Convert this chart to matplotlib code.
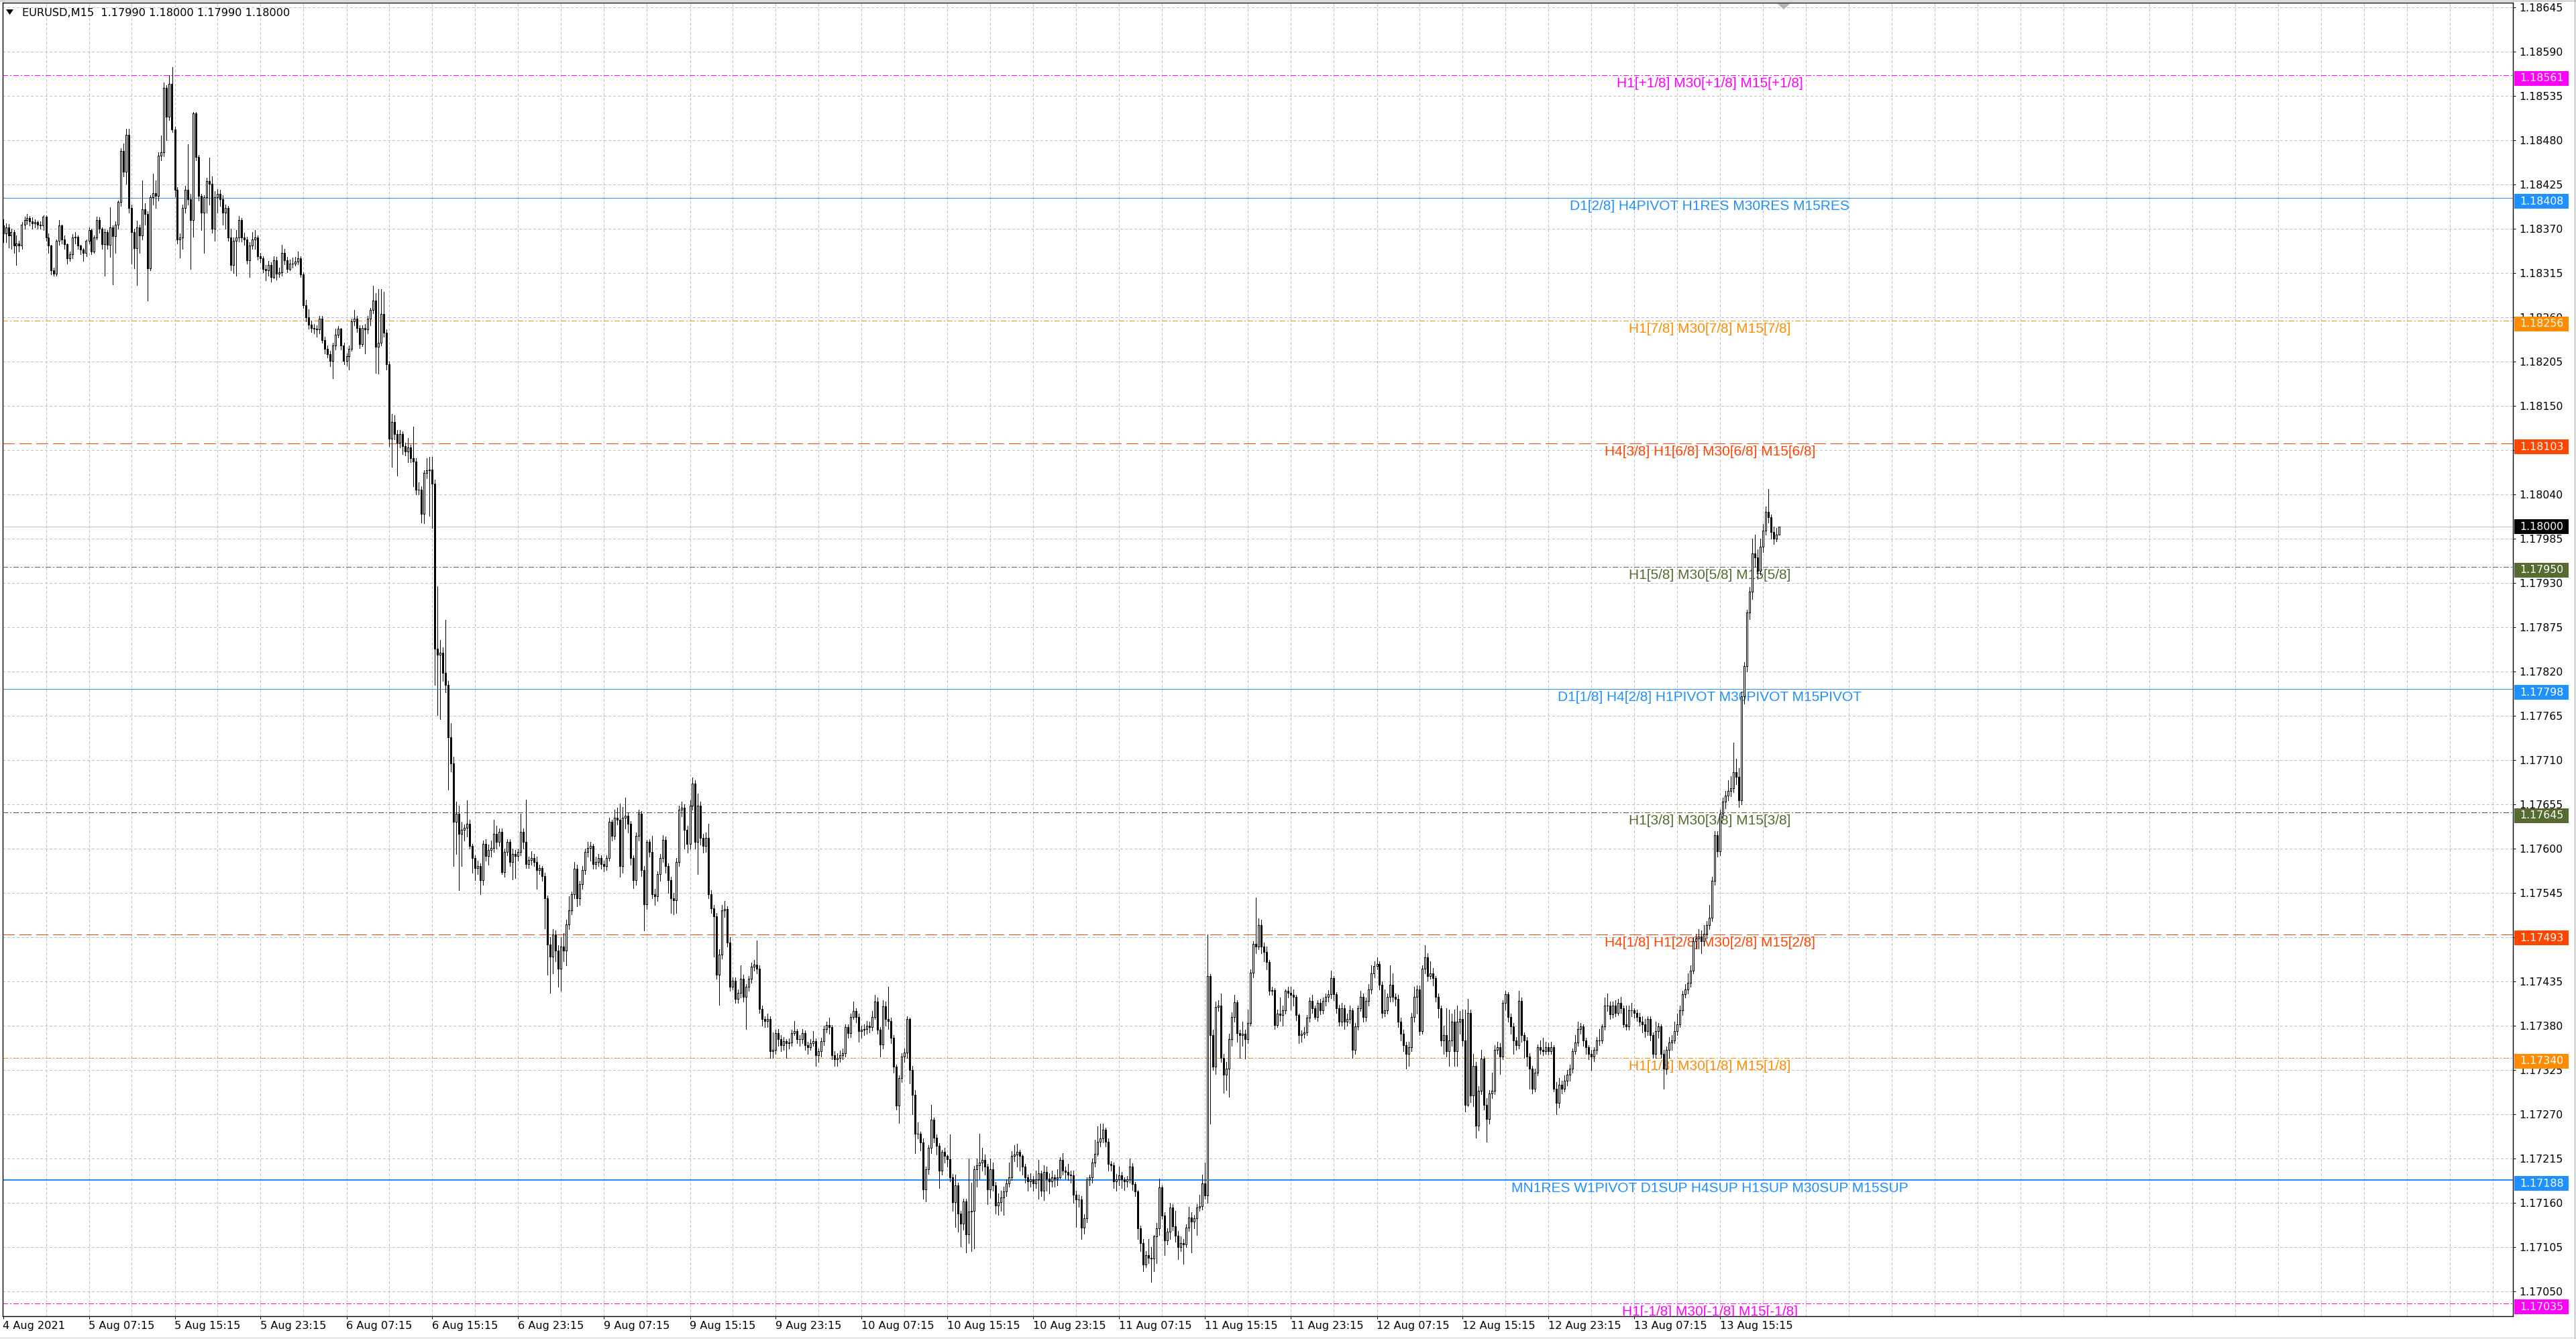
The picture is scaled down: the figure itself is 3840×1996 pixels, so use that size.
import matplotlib
matplotlib.use("Agg")
import matplotlib.pyplot as plt
import matplotlib.transforms as mtransforms
from matplotlib.collections import LineCollection
from matplotlib.patches import Rectangle, Polygon
from matplotlib.lines import Line2D
import numpy as np

plt.rcParams['font.family'] = ['DejaVu Sans']

# ---------------- data (EURUSD M15, prices as points above 1.17000) ----------------
BASE = 1.17000
POINT = 0.00001

opens = [
1374,1364,1372,1362,1366,1349,1352,1349,1375,1381,
1383,1379,1377,1378,1375,1374,1385,1359,1349,1318,
1314,1355,1374,1357,1351,1333,1338,1359,1360,1349,
1344,1340,1355,1368,1342,1359,1381,1370,1351,1366,
1350,1372,1361,1375,1403,1467,1441,1487,1396,1366,
1346,1372,1362,1394,1388,1321,1409,1414,1411,1461,
1465,1545,1509,1550,1493,1418,1357,1359,1396,1418,
1407,1381,1513,1459,1411,1390,1409,1429,1426,1370,
1409,1413,1407,1390,1396,1359,1325,1355,1359,1381,
1359,1357,1331,1349,1357,1359,1336,1333,1320,1318,
1325,1310,1331,1314,1316,1340,1331,1320,1327,1327,
1329,1333,1313,1275,1260,1251,1247,1246,1245,1258,
1232,1221,1214,1206,1225,1238,1246,1225,1206,1212,
1221,1255,1258,1247,1227,1247,1245,1258,1269,1281,
1223,1228,1264,1241,1202,1109,1130,1115,1104,1115,
1100,1093,1098,1085,1081,1046,1046,1016,1067,1070,
1071,1053,848,841,843,818,803,738,706,633,
643,618,623,626,631,603,588,576,578,561,
606,591,598,601,618,608,621,571,596,608,
583,593,591,596,621,608,581,586,588,583,
573,576,566,538,481,466,493,473,451,478,
473,506,523,543,575,538,556,573,596,601,
603,581,583,588,581,578,588,633,616,638,
636,578,638,641,631,588,561,616,643,573,
531,608,596,543,541,568,588,611,578,561,
538,536,583,648,651,623,606,653,681,608,
653,613,603,613,543,526,516,443,468,523,
525,483,428,436,413,421,438,416,428,438,
453,456,451,401,388,386,388,348,350,371,
363,356,361,358,359,371,373,363,363,371,
356,353,358,361,343,348,361,376,381,378,
343,338,340,343,346,378,371,391,398,391,
373,375,376,380,378,391,410,375,357,404,
388,386,365,329,281,315,342,347,388,325,
294,246,246,235,177,202,228,263,241,231,
200,223,218,214,192,161,182,147,134,162,
121,149,150,202,207,210,213,205,177,202,
182,157,161,167,174,184,192,218,220,223,
218,205,192,187,189,184,189,197,175,198,
190,187,192,190,192,213,200,198,195,194,
170,164,164,129,141,189,192,210,221,236,
240,251,236,208,207,187,189,194,189,187,
189,205,183,174,128,110,83,95,92,91,
118,128,179,144,113,124,154,131,119,105,
110,108,129,142,137,141,154,156,184,169,
442,368,329,403,405,340,319,327,363,391,
409,371,368,370,363,383,446,482,478,505,
478,472,459,423,424,381,395,393,399,423,
421,418,416,393,368,370,372,390,411,402,
391,408,399,411,416,419,439,419,402,385,
402,385,388,399,350,379,402,416,391,411,
425,445,454,457,431,396,399,416,431,416,
413,385,370,356,345,353,391,416,425,373,
451,465,442,445,439,416,402,362,368,348,
362,385,348,385,388,362,282,396,293,330,
256,299,339,282,264,296,299,350,353,342,
408,419,391,379,362,356,411,368,362,342,
327,302,322,353,350,348,353,348,353,302,
284,307,302,312,319,327,348,359,376,379,
362,353,345,342,350,362,362,379,405,405,
394,405,396,408,402,382,379,399,399,396,
391,385,382,373,388,368,345,373,379,345,
327,350,359,362,373,382,399,419,425,433,
448,485,488,491,485,494,505,514,560,617,
597,643,658,666,672,675,695,689,660,789,
827,893,919,967,962,945,975,995,1018,1012,
993,985,990,
]

highs = [
1382,1377,1376,1370,1368,1362,1355,1378,1385,1388,
1386,1384,1382,1380,1379,1387,1387,1364,1350,1322,
1357,1381,1375,1362,1352,1342,1363,1366,1362,1350,
1346,1357,1372,1370,1362,1385,1384,1372,1370,1368,
1397,1374,1379,1405,1470,1476,1494,1494,1400,1370,
1380,1375,1430,1402,1392,1412,1438,1430,1465,1486,
1552,1548,1561,1571,1497,1422,1364,1400,1423,1475,
1413,1515,1515,1462,1413,1412,1433,1458,1435,1417,
1419,1418,1412,1400,1398,1370,1359,1368,1386,1383,
1365,1360,1353,1366,1368,1362,1340,1336,1325,1330,
1328,1336,1335,1322,1350,1345,1335,1332,1334,1335,
1342,1336,1316,1282,1270,1256,1252,1250,1262,1262,
1236,1225,1218,1228,1246,1249,1247,1228,1215,1225,
1258,1269,1262,1250,1250,1252,1262,1272,1299,1290,
1295,1295,1292,1245,1205,1140,1138,1120,1120,1118,
1104,1110,1102,1124,1085,1055,1050,1070,1085,1087,
1087,1058,926,859,850,884,808,756,714,658,
653,633,630,660,636,606,592,585,582,610,
612,605,610,636,628,625,625,600,612,612,
600,598,600,643,625,661,590,597,593,590,
580,578,570,542,490,500,498,480,490,495,
512,541,547,583,580,560,578,600,608,608,
606,590,593,592,585,592,638,636,648,651,
656,652,663,645,634,592,620,648,647,578,
611,612,616,550,572,593,617,615,582,565,
545,588,653,658,655,628,660,688,685,668,
658,618,620,631,548,530,520,475,530,535,
528,490,440,440,425,455,443,432,442,458,
462,486,455,405,392,395,392,372,375,376,
368,366,363,364,375,386,376,368,376,374,
360,363,373,364,352,365,380,385,390,381,
348,346,349,352,382,382,395,410,402,395,
380,382,386,385,398,418,415,378,412,410,
428,390,368,332,318,346,352,392,390,330,
300,260,248,240,205,232,282,266,245,234,
226,228,220,245,196,195,185,150,165,165,
215,185,206,215,246,228,220,208,215,210,
186,172,175,180,189,210,224,232,233,226,
220,208,195,197,193,200,213,200,207,205,
197,200,195,202,217,222,205,208,200,200,
175,170,168,146,192,195,215,238,255,258,
258,253,240,212,210,196,205,198,192,193,
215,209,186,176,132,115,100,115,105,120,
135,190,182,148,128,160,158,150,125,118,
115,133,155,148,145,158,170,195,210,493,
444,375,410,412,420,345,335,370,397,418,
412,375,385,375,400,450,485,539,513,512,
483,478,462,428,427,400,415,405,425,428,
428,425,418,395,374,378,393,415,418,405,
412,413,415,420,424,448,442,422,406,408,
406,395,405,402,383,405,423,420,415,432,
455,460,465,460,435,425,420,455,445,420,
418,390,375,360,360,396,428,430,430,455,
480,470,460,452,442,420,405,380,402,400,
395,400,405,398,400,400,413,400,345,335,
305,350,342,290,300,322,356,360,358,412,
423,422,395,383,366,423,415,372,366,346,
330,327,357,362,365,360,358,360,356,310,
315,312,318,325,332,352,368,385,383,382,
365,356,350,353,366,376,382,415,420,410,
410,412,413,416,405,405,405,408,402,400,
396,392,388,392,392,372,385,383,382,350,
354,366,368,385,395,405,423,432,445,455,
490,494,500,498,505,510,530,565,622,622,
648,663,672,685,690,732,712,700,795,832,
897,925,985,990,972,985,1003,1025,1047,1015,
1000,998,1000,
]

lows = [
1353,1353,1347,1345,1340,1325,1342,1345,1370,1376,
1374,1370,1372,1370,1370,1368,1355,1340,1313,1312,
1312,1350,1352,1345,1327,1330,1333,1352,1345,1338,
1330,1336,1352,1338,1340,1357,1365,1345,1312,1345,
1335,1301,1340,1370,1398,1435,1426,1390,1327,1321,
1300,1340,1357,1375,1281,1318,1400,1396,1405,1455,
1460,1480,1505,1490,1410,1352,1334,1345,1390,1400,
1320,1360,1455,1405,1368,1340,1390,1400,1365,1355,
1390,1398,1375,1370,1355,1318,1315,1312,1354,1354,
1350,1327,1310,1345,1345,1332,1328,1316,1306,1312,
1304,1308,1307,1310,1312,1326,1316,1318,1322,1324,
1326,1310,1272,1255,1246,1242,1240,1236,1240,1228,
1215,1210,1199,1184,1220,1235,1220,1202,1200,1195,
1218,1250,1242,1222,1224,1215,1240,1250,1265,1191,
1190,1225,1236,1195,1100,1074,1108,1063,1098,1090,
1088,1080,1080,1050,1040,1040,1005,1004,1060,1013,
998,803,766,761,808,794,673,696,578,593,
548,578,610,615,600,570,561,568,543,555,
585,580,590,596,600,603,568,565,592,578,
562,563,585,592,600,576,576,580,578,550,
568,560,501,443,421,445,460,428,423,460,
455,500,518,538,528,530,550,568,590,585,
575,575,578,575,572,573,585,610,612,630,
565,570,625,620,580,551,555,610,566,498,
525,590,538,530,535,560,583,570,545,520,
518,520,578,640,600,595,600,648,600,568,
605,595,596,538,520,466,438,406,463,515,
478,423,425,408,408,415,410,376,423,433,
448,445,396,380,378,378,340,340,345,355,
348,350,340,352,355,368,358,355,358,350,
345,350,355,330,335,342,356,372,370,338,
330,330,335,338,342,365,366,388,384,360,
365,368,370,372,374,388,370,342,352,380,
376,358,322,276,259,310,335,340,308,270,
222,240,225,165,162,196,222,235,220,178,
195,210,205,187,150,130,124,106,127,98,
110,100,103,180,190,200,195,158,167,175,
147,145,150,145,168,180,188,212,205,200,
195,185,175,180,175,178,165,168,163,175,
172,180,180,182,190,195,190,188,185,160,
130,155,115,122,136,182,185,205,218,230,
235,230,200,200,178,175,182,178,176,180,
185,176,168,115,100,75,80,85,62,75,
85,120,140,95,108,115,126,112,90,100,
84,105,125,98,128,120,150,152,165,160,
258,325,320,398,335,297,300,292,355,385,
360,340,355,339,358,380,440,470,475,470,
460,450,418,418,376,378,386,380,395,415,
400,405,387,358,360,365,368,385,396,388,
386,394,395,405,410,414,412,396,380,380,
376,380,383,340,345,375,398,385,386,405,
420,440,450,425,390,392,395,410,410,405,
378,362,348,327,330,348,385,395,368,370,
445,436,438,430,410,390,355,345,342,330,
355,330,330,370,355,273,280,285,280,241,
250,295,276,236,258,290,295,345,320,338,
400,385,370,345,350,352,360,340,330,302,
296,298,318,345,343,345,344,345,298,270,
278,296,298,306,312,322,345,355,370,355,
345,338,325,336,345,356,358,375,398,388,
390,392,393,396,378,375,375,392,390,386,
380,372,366,368,362,340,340,365,340,302,
320,340,350,358,368,378,393,415,420,428,
445,476,476,470,480,488,500,510,555,590,
592,638,650,660,665,670,680,652,655,780,
820,885,910,950,935,940,968,990,1005,985,
978,982,990,
]

closes = [
1364,1372,1362,1366,1349,1352,1349,1375,1381,1383,
1379,1377,1378,1375,1374,1385,1359,1349,1318,1314,
1355,1374,1357,1351,1333,1338,1359,1360,1349,1344,
1340,1355,1368,1342,1359,1381,1370,1351,1366,1350,
1372,1361,1375,1403,1467,1441,1487,1396,1366,1346,
1372,1362,1394,1388,1321,1409,1414,1411,1461,1465,
1545,1509,1550,1493,1418,1357,1359,1396,1418,1407,
1381,1513,1459,1411,1390,1409,1429,1426,1370,1409,
1413,1407,1390,1396,1359,1325,1355,1359,1381,1359,
1357,1331,1349,1357,1359,1336,1333,1320,1318,1325,
1310,1331,1314,1316,1340,1331,1320,1327,1327,1329,
1333,1313,1275,1260,1251,1247,1246,1245,1258,1232,
1221,1214,1206,1225,1238,1246,1225,1206,1212,1221,
1255,1258,1247,1227,1247,1245,1258,1269,1281,1223,
1228,1264,1241,1202,1109,1130,1115,1104,1115,1100,
1093,1098,1085,1081,1046,1046,1016,1067,1070,1071,
1053,848,841,843,818,803,738,706,633,643,
618,623,626,631,603,588,576,578,561,606,
591,598,601,618,608,621,571,596,608,583,
593,591,596,621,608,581,586,588,583,573,
576,566,538,481,466,493,473,451,478,473,
506,523,543,575,538,556,573,596,601,603,
581,583,588,581,578,588,633,616,638,636,
578,638,641,631,588,561,616,643,573,531,
608,596,543,541,568,588,611,578,561,538,
536,583,648,651,623,606,653,681,608,653,
613,603,613,543,526,516,443,468,523,525,
483,428,436,413,421,438,416,428,438,453,
456,451,401,388,386,388,348,350,371,363,
356,361,358,359,371,373,363,363,371,356,
353,358,361,343,348,361,376,381,378,343,
338,340,343,346,378,371,391,398,391,373,
375,376,380,378,391,410,375,357,404,388,
386,365,329,281,315,342,347,388,325,294,
246,246,235,177,202,228,263,241,231,200,
223,218,214,192,161,182,147,134,162,121,
149,150,202,207,210,213,205,177,202,182,
157,161,167,174,184,192,218,220,223,218,
205,192,187,189,184,189,197,175,198,190,
187,192,190,192,213,200,198,195,194,170,
164,164,129,141,189,192,210,221,236,240,
251,236,208,207,187,189,194,189,187,189,
205,183,174,128,110,83,95,92,91,118,
128,179,144,113,124,154,131,119,105,110,
108,129,142,137,141,154,156,184,169,442,
368,329,403,405,340,319,327,363,391,409,
371,368,370,363,383,446,482,478,505,478,
472,459,423,424,381,395,393,399,423,421,
418,416,393,368,370,372,390,411,402,391,
408,399,411,416,419,439,419,402,385,402,
385,388,399,350,379,402,416,391,411,425,
445,454,457,431,396,399,416,431,416,413,
385,370,356,345,353,391,416,425,373,451,
465,442,445,439,416,402,362,368,348,362,
385,348,385,388,362,282,396,293,330,256,
299,339,282,264,296,299,350,353,342,408,
419,391,379,362,356,411,368,362,342,327,
302,322,353,350,348,353,348,353,302,284,
307,302,312,319,327,348,359,376,379,362,
353,345,342,350,362,362,379,405,405,394,
405,396,408,402,382,379,399,399,396,391,
385,382,373,388,368,345,373,379,345,327,
350,359,362,373,382,399,419,425,433,448,
485,488,491,485,494,505,514,560,617,597,
643,658,666,672,675,695,689,660,789,827,
893,919,967,962,945,975,995,1018,1012,993,
985,990,1000,
]

# time axis labels (one every 32 bars)
time_labels = ["4 Aug 2021", "5 Aug 07:15", "5 Aug 15:15", "5 Aug 23:15", "6 Aug 07:15",
               "6 Aug 15:15", "6 Aug 23:15", "9 Aug 07:15", "9 Aug 15:15", "9 Aug 23:15",
               "10 Aug 07:15", "10 Aug 15:15", "10 Aug 23:15", "11 Aug 07:15", "11 Aug 15:15",
               "11 Aug 23:15", "12 Aug 07:15", "12 Aug 15:15", "12 Aug 23:15", "13 Aug 07:15",
               "13 Aug 15:15"]
BARS_PER_LABEL = 32
BARS_PER_GRID = 16

# Murrey-math style levels
level_prices = [1.18561, 1.18408, 1.18256, 1.18103, 1.17950, 1.17798,
                1.17645, 1.17493, 1.17340, 1.17188, 1.17035]
level_names = ["H1[+1/8] M30[+1/8] M15[+1/8]",
               "D1[2/8] H4PIVOT H1RES M30RES M15RES",
               "H1[7/8] M30[7/8] M15[7/8]",
               "H4[3/8] H1[6/8] M30[6/8] M15[6/8]",
               "H1[5/8] M30[5/8] M15[5/8]",
               "D1[1/8] H4[2/8] H1PIVOT M30PIVOT M15PIVOT",
               "H1[3/8] M30[3/8] M15[3/8]",
               "H4[1/8] H1[2/8] M30[2/8] M15[2/8]",
               "H1[1/8] M30[1/8] M15[1/8]",
               "MN1RES W1PIVOT D1SUP H4SUP H1SUP M30SUP M15SUP",
               "H1[-1/8] M30[-1/8] M15[-1/8]"]
level_colors = ["#ff00ff", "#1e90ff", "#ff8c00", "#ff4500", "#556b2f", "#1e90ff",
                "#556b2f", "#ff4500", "#ff8c00", "#1e90ff", "#ff00ff"]
level_kinds = ["dashdot", "solid", "dashdot", "dash", "dashdot", "solid",
               "dashdot", "dash", "dashdot", "solid_thick", "dashdot"]

current_price = 1.18000
header = "EURUSD,M15  1.17990 1.18000 1.17990 1.18000"

y_tick_start = 1.17050
y_tick_step = 0.00055
y_tick_count = 30

# ---------------- figure layout ----------------
W, H = 3840, 1996
DPI = 100
PX = 72.0 / DPI  # one pixel in points
fig = plt.figure(figsize=(W / DPI, H / DPI), dpi=DPI)
fig.patch.set_facecolor("white")

ax_l, ax_r, ax_t, ax_b = 4, 3746, 4, 1962
ax = fig.add_axes([ax_l / W, 1 - ax_b / H, (ax_r - ax_l) / W, (ax_b - ax_t) / H])
ax.set_facecolor("white")

px_per_bar = 4.0
x0 = -0.125
x1 = x0 + (ax_r - ax_l) / px_per_bar
px_per_price = 120000.0
y_top = 1.18645 + 7 / px_per_price
y_bot = 1.18645 - 1951 / px_per_price

n = min(len(opens), len(highs), len(lows), len(closes))
o = BASE + np.array(opens[:n]) * POINT
h = BASE + np.array(highs[:n]) * POINT
l = BASE + np.array(lows[:n]) * POINT
c = BASE + np.array(closes[:n]) * POINT
xs = np.arange(n)

# ticks
yt = [y_tick_start + k * y_tick_step for k in range(y_tick_count)]
ax.set_yticks(yt)
ax.set_yticklabels([f"{v:.5f}" for v in yt])
major_x = [k * BARS_PER_LABEL for k in range(len(time_labels))]
ax.set_xticks(major_x)
ax.set_xticklabels(time_labels)

# grid (drawn manually so it spans the whole window)
grid_kw = dict(color="#c0c0c0", linestyle=(0, (3, 3)), linewidth=PX, zorder=1,
               antialiased=False)
for v in yt:
    ax.axhline(v, **grid_kw)
xg = BARS_PER_GRID
while xg < x1:
    ax.axvline(xg, **grid_kw)
    xg += BARS_PER_GRID

ax.yaxis.tick_right()
ax.tick_params(axis="y", which="major", length=4 * PX, width=PX, pad=5 * PX,
               labelsize=11.3, colors="black", direction="out")
ax.tick_params(axis="x", which="major", length=4 * PX, width=PX, pad=3 * PX,
               labelsize=11.6, colors="black", direction="out")
for lab in ax.get_xticklabels():
    lab.set_horizontalalignment("left")
for sp in ax.spines.values():
    sp.set_color("black")
    sp.set_linewidth(1.0)

# ---------------- levels ----------------
blend = mtransforms.blended_transform_factory(ax.transAxes, ax.transData)
label_tr = mtransforms.offset_copy(blend, fig=fig, y=-3, units="dots")
styles = {"dashdot": ((0, (8, 3, 2, 3)), PX),
          "dash": ((0, (17, 7)), PX),
          "solid": ("-", PX),
          "solid_thick": ("-", 2 * PX)}
for p, name, col, kind in zip(level_prices, level_names, level_colors, level_kinds):
    ls, lw = styles[kind]
    ax.axhline(p, color=col, linestyle=ls, linewidth=lw, zorder=2, antialiased=False)
    ax.text(0.6801, p, name, transform=label_tr, ha="center", va="top",
            color=col, fontsize=15, family=["Liberation Sans", "DejaVu Sans"],
            zorder=2.6, clip_on=True)

ax.axhline(current_price, color="#c0c0c0", linewidth=PX, zorder=2, antialiased=False)

# ---------------- candles ----------------
segs = [[(x, lo), (x, hi)] for x, lo, hi in zip(xs, l, h)]
ax.add_collection(LineCollection(segs, colors="black", linewidths=PX,
                                 antialiaseds=False, zorder=3))
bull = c >= o
bw = 0.5
ax.bar(xs[bull], (c - o)[bull], bottom=o[bull], width=bw, color="white",
       edgecolor="black", linewidth=PX, antialiased=False, zorder=4)
ax.bar(xs[~bull], (c - o)[~bull], bottom=o[~bull], width=bw, color="black",
       edgecolor="black", linewidth=PX, antialiased=False, zorder=4)

# limits set last so nothing expands them
ax.set_xlim(x0, x1)
ax.set_ylim(y_bot, y_top)

# ---------------- right-side price boxes ----------------
box_h = 22 / px_per_price
box_x = (3748 - ax_l) / (ax_r - ax_l)
box_w = 81 / (ax_r - ax_l)
txt_x = (3756 - ax_l) / (ax_r - ax_l)
# level boxes sit ~5 px below their line; the current-price box is centred on it
boxes = [(p, col, 5) for p, col in zip(level_prices, level_colors)] + [(current_price, "black", 0)]
for p, col, shift in boxes:
    yc = p - shift / px_per_price
    ax.add_patch(Rectangle((box_x, yc - box_h / 2), box_w, box_h, transform=blend,
                           facecolor=col, edgecolor="none", clip_on=False, zorder=6))
    ax.text(txt_x, yc, f"{p:.5f}", transform=blend, ha="left", va="center",
            color="white", fontsize=11.3, clip_on=False, zorder=7)

# ---------------- header & decorations ----------------
def fpt(xp, yp):
    return (xp / W, 1 - yp / H)

fig.patches.append(Polygon([fpt(9, 14), fpt(20, 14), fpt(14.5, 22)], closed=True,
                           transform=fig.transFigure, facecolor="black", edgecolor="none"))
fig.text(33 / W, 1 - 19 / H, header, ha="left", va="center", fontsize=11.6, color="black")

# chart shift marker
fig.patches.append(Polygon([fpt(2649, 5), fpt(2669, 5), fpt(2659, 14)], closed=True,
                           transform=fig.transFigure, facecolor="#b4b4b4", edgecolor="none",
                           zorder=5))

# outer window border
fig.lines.append(Line2D([0, 1], [1 - 1 / H, 1 - 1 / H], transform=fig.transFigure,
                        color="#a0a0a0", linewidth=PX))
fig.lines.append(Line2D([1 - 2 / W, 1 - 2 / W], [0, 1], transform=fig.transFigure,
                        color="#a0a0a0", linewidth=PX))
fig.lines.append(Line2D([0, 1], [2 / H, 2 / H], transform=fig.transFigure,
                        color="#d0d0d0", linewidth=PX))

fig.savefig("out.png", dpi=DPI, facecolor="white")
